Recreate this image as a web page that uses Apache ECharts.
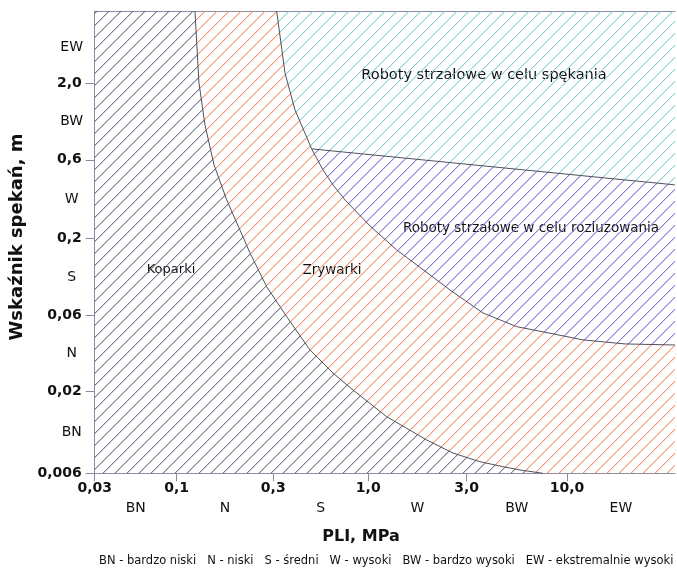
<!DOCTYPE html>
<html><head><meta charset="utf-8">
<script src="https://cdn.jsdelivr.net/npm/echarts@6/dist/echarts.min.js"></script>
<style>html,body{margin:0;padding:0;background:#fff}#c{width:677px;height:573px}</style>
</head><body><div id="c"></div>
<script>
// ---- data (PLI in MPa, m in metres) ----
const xTicks = [0.03, 0.1, 0.3, 1.0, 3.0, 10.0];
const xTickLabels = ['0,03', '0,1', '0,3', '1,0', '3,0', '10,0'];
const yTicks = [0.006, 0.02, 0.06, 0.2, 0.6, 2.0];
const yTickLabels = ['0,006', '0,02', '0,06', '0,2', '0,6', '2,0'];
const classLabels = ['BN', 'N', 'S', 'W', 'BW', 'EW'];
const xRange = [0.03, 36.6];
const yRange = [0.006, 6.2];

// boundary Koparki / Zrywarki
const kopPLI = [0.1231, 0.1288, 0.1379, 0.1529, 0.1766, 0.2301, 0.2783, 0.3556, 0.4776, 0.6393, 0.8237, 1.228, 1.920, 2.575, 3.519, 4.638, 5.689, 7.50];
const kopM   = [6.2, 2.01, 1.04, 0.5596, 0.3432, 0.16, 0.0944, 0.0591, 0.0364, 0.026, 0.0203, 0.01373, 0.00977, 0.00807, 0.00711, 0.00661, 0.0063, 0.006];
// boundary Zrywarki / Roboty strzałowe
const zryPLI = [0.3132, 0.3479, 0.3949, 0.4881, 0.5631, 0.6393, 0.7445, 1.019, 1.373, 2.489, 3.648, 5.467, 8.155, 12.12, 20.06, 36.6];
const zryM   = [6.2, 2.35, 1.315, 0.7129, 0.5219, 0.4231, 0.3432, 0.2388, 0.1676, 0.0897, 0.06256, 0.0511, 0.04642, 0.0421, 0.03971, 0.0391];
const zryJunction = 3;
// boundary spękanie / rozluzowanie
const robPLI = [0.4881, 36.6];
const robM   = [0.7129, 0.4231];

const legendItems = ['BN - bardzo niski', 'N - niski', 'S - średni', 'W - wysoki', 'BW - bardzo wysoki', 'EW - ekstremalnie wysoki'];

// ---- scale layout (relative widths of class bands) ----
const xGaps = [82, 96.6, 95, 98.4, 100.3];
const yGaps = [82.3, 75.3, 77, 78.7, 76.7];

function makeScale(ticks, gaps) {
  const pos = [0];
  gaps.forEach(g => pos.push(pos[pos.length - 1] + g));
  const lg = ticks.map(Math.log10);
  return v => {
    const l = Math.log10(v);
    let i = 0;
    while (i < lg.length - 2 && l > lg[i + 1]) i++;
    return pos[i] + (l - lg[i]) / (lg[i + 1] - lg[i]) * (pos[i + 1] - pos[i]);
  };
}
const xc = makeScale(xTicks, xGaps);
const yc = makeScale(yTicks, yGaps);

const FONT = '"DejaVu Sans", Verdana, sans-serif';
const pts = (px, m) => px.map((x, i) => [x, m[i]]);
const kop = pts(kopPLI, kopM);
const zry = pts(zryPLI, zryM);
const rob = pts(robPLI, robM);

const polyKop = [[xRange[0], yRange[0]], [xRange[0], yRange[1]]].concat(kop);
const polyZry = kop.concat([[xRange[1], yRange[0]]], zry.slice().reverse());
const polyLoose = zry.slice(zryJunction).concat(rob.slice().reverse());
const polyCrack = zry.slice(0, zryJunction + 1).concat([rob[rob.length - 1], [xRange[1], yRange[1]]]);

function hatch(rgb, a1, a2) {
  const s = 12, c = document.createElement('canvas');
  c.width = s; c.height = s;
  const g = c.getContext('2d');
  for (let i = 0; i < s; i++) {
    g.fillStyle = 'rgba(' + rgb + ',' + a1 + ')';
    g.fillRect(i, s - 1 - i, 1, 1);
    g.fillStyle = 'rgba(' + rgb + ',' + a2 + ')';
    g.fillRect((i + 1) % s, s - 1 - i, 1, 1);
  }
  return { image: c, repeat: 'repeat' };
}
const regions = [
  { poly: polyKop, fill: hatch('95,95,120', 0.85, 0.3) },
  { poly: polyZry, fill: hatch('245,145,105', 0.95, 0.4) },
  { poly: polyLoose, fill: hatch('130,110,210', 0.9, 0.35) },
  { poly: polyCrack, fill: hatch('120,205,205', 0.9, 0.3) }
];

const xTickPos = xTicks.map(xc);
const yTickPos = yTicks.map(yc);
const xMaxC = xc(xRange[1]), yMaxC = yc(yRange[1]);
const xMid = xTickPos.map((p, i) => (p + (i < xTickPos.length - 1 ? xTickPos[i + 1] : xMaxC)) / 2);
const yMid = yTickPos.map((p, i) => (p + (i < yTickPos.length - 1 ? yTickPos[i + 1] : yMaxC)) / 2);
function lookup(posArr, labels) {
  return v => {
    let best = 0;
    posArr.forEach((p, i) => { if (Math.abs(p - v) < Math.abs(posArr[best] - v)) best = i; });
    return labels[best];
  };
}

const axisCol = '#8a8aa0';
const lineSeries = (arr) => ({
  type: 'line', xAxisIndex: 0, yAxisIndex: 0, symbol: 'none', silent: true, z: 5,
  lineStyle: { color: '#50505e', width: 1 },
  data: arr.map(p => [xc(p[0]), yc(p[1])])
});

const chart = echarts.init(document.getElementById('c'), null, { renderer: 'canvas' });
chart.setOption({
  animation: false,
  grid: { left: 94.7, right: 2, top: 11, bottom: 99.7, containLabel: false },
  xAxis: [
    { type: 'value', min: 0, max: xMaxC, position: 'bottom',
      splitLine: { show: false },
      axisLine: { show: true, lineStyle: { color: axisCol } },
      axisTick: { show: true, length: 8, lineStyle: { color: axisCol }, customValues: xTickPos },
      axisLabel: { customValues: xTickPos, formatter: lookup(xTickPos, xTickLabels), margin: 8,
        fontFamily: FONT, fontWeight: 'bold', fontSize: 14, color: '#111' } },
    { type: 'value', min: 0, max: xMaxC, position: 'bottom',
      splitLine: { show: false }, axisLine: { show: false }, axisTick: { show: false },
      axisLabel: { customValues: xMid, formatter: lookup(xMid, classLabels), margin: 28,
        fontFamily: FONT, fontSize: 14, color: '#111' } },
    { type: 'value', min: 0, max: xMaxC, position: 'top',
      splitLine: { show: false }, axisLine: { show: true, lineStyle: { color: axisCol } },
      axisTick: { show: false }, axisLabel: { show: false } }
  ],
  yAxis: [
    { type: 'value', min: 0, max: yMaxC, position: 'left',
      splitLine: { show: false },
      axisLine: { show: true, lineStyle: { color: axisCol } },
      axisTick: { show: true, length: 9, lineStyle: { color: axisCol }, customValues: yTickPos },
      axisLabel: { customValues: yTickPos, formatter: lookup(yTickPos, yTickLabels), margin: 13,
        fontFamily: FONT, fontWeight: 'bold', fontSize: 14, color: '#111' } },
    { type: 'value', min: 0, max: yMaxC, position: 'left',
      splitLine: { show: false }, axisLine: { show: false }, axisTick: { show: false },
      axisLabel: { customValues: yMid, formatter: lookup(yMid, classLabels), margin: 23, align: 'center',
        fontFamily: FONT, fontSize: 14, color: '#111' } }
  ],
  series: [
    { type: 'custom', xAxisIndex: 0, yAxisIndex: 0, silent: true, z: 1,
      data: regions.map((r, i) => [0, 0, i]),
      renderItem: (params, api) => {
        const r = regions[params.dataIndex];
        return { type: 'polygon',
          shape: { points: r.poly.map(p => api.coord([xc(p[0]), yc(p[1])])) },
          style: { fill: r.fill, stroke: null } };
      } },
    lineSeries(kop),
    lineSeries(zry),
    lineSeries(rob)
  ],
  graphic: [
    { type: 'text', x: 484, y: 75, style: { text: 'Roboty strzałowe w celu spękania', font: '14.5px ' + FONT, fill: '#111', align: 'center', verticalAlign: 'middle' } },
    { type: 'text', x: 531, y: 228, style: { text: 'Roboty strzałowe w celu rozluzowania', font: '13.5px ' + FONT, fill: '#111', align: 'center', verticalAlign: 'middle' } },
    { type: 'text', x: 171, y: 270, style: { text: 'Koparki', font: '13px ' + FONT, fill: '#111', align: 'center', verticalAlign: 'middle' } },
    { type: 'text', x: 332, y: 270, style: { text: 'Zrywarki', font: '13.5px ' + FONT, fill: '#111', align: 'center', verticalAlign: 'middle' } },
    { type: 'text', x: 361, y: 537, style: { text: 'PLI, MPa', font: 'bold 16px ' + FONT, fill: '#111', align: 'center', verticalAlign: 'middle' } },
    { type: 'text', x: 17, y: 237, rotation: Math.PI / 2, style: { text: 'Wskaźnik spekań, m', font: 'bold 18px ' + FONT, fill: '#111', align: 'center', verticalAlign: 'middle' } },
    { type: 'text', x: 99, y: 561, style: { text: legendItems.join('   '), font: '11.5px ' + FONT, fill: '#111', align: 'left', verticalAlign: 'middle' } }
  ]
});
</script></body></html>
